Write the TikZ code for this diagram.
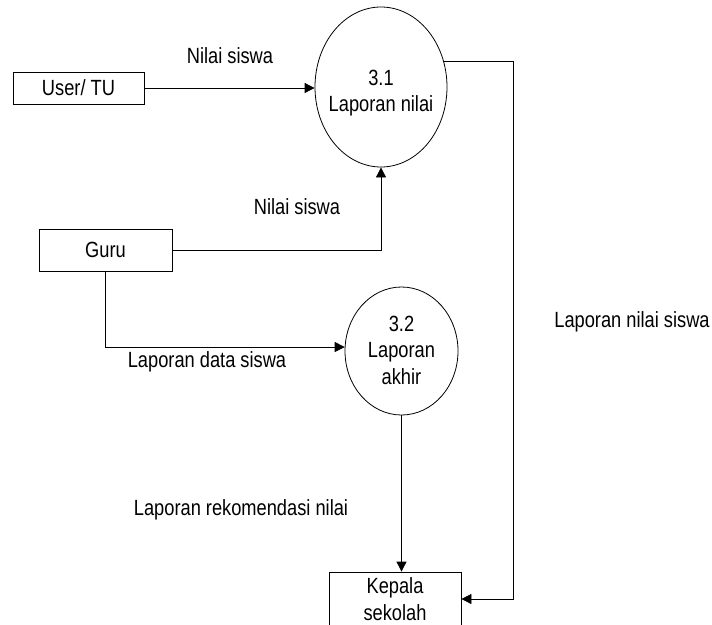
\documentclass[tikz,border=0pt]{standalone}
\usepackage{fontspec}
\setmainfont{Liberation Sans}[FakeStretch=0.83]
\usetikzlibrary{arrows.meta,shapes.geometric}
\begin{document}
\begin{tikzpicture}[x=1pt,y=-1pt,
  every node/.style={font=\fontsize{22}{26.5}\selectfont, align=center},
  entity/.style={draw, line width=0.8pt, inner sep=0pt},
  process/.style={draw, ellipse, line width=0.8pt, inner sep=0pt},
  flow/.style={line width=0.8pt, -{Triangle[length=10pt,width=10pt]}},
  lbl/.style={inner sep=0pt}]
\useasboundingbox (0,0) rectangle (712,624);

% external entities
\node[entity, minimum width=131pt, minimum height=32pt] (user) at (78.5,88) {User/ TU};
\node[entity, minimum width=133pt, minimum height=42pt] (guru) at (105.5,250) {Guru};
\node[entity, minimum width=132pt, minimum height=54pt] (kepala) at (395,599) {Kepala\\sekolah};

% processes: the outline, then its caption
\node[process, minimum width=132pt, minimum height=160pt] (p31) at (381,87) {};
\node[lbl] (t31) at (381,93) {3.1\\Laporan nilai};
\node[process, minimum width=113pt, minimum height=128pt] (p32) at (401.5,351) {};
\node[lbl] (t32) at (401.5,350) {3.2\\Laporan\\akhir};

% turning point of the report line on the right
\coordinate (rx) at (513,300);

% data flows
\draw[flow] (user.east) -- (user.east -| p31.west);
\draw[flow] (guru.east) -| (p31.south);
\draw[flow] (guru.south) |- (p32.176);
\draw[flow] (p32.south) -- (p32.south |- kepala.north);
\draw[flow] (p31.22) -- (p31.22 -| rx) -- (rx |- kepala.east) -- (kepala.east);

% flow labels
\node[lbl] (l1) at (230,56) {Nilai siswa};
\node[lbl] (l2) at (297,207) {Nilai siswa};
\node[lbl] (l3) at (207,362) {Laporan data siswa};
\node[lbl] (l4) at (241,510) {Laporan rekomendasi nilai};
\node[lbl] (l5) at (632,322) {Laporan nilai siswa};
\end{tikzpicture}
\end{document}
